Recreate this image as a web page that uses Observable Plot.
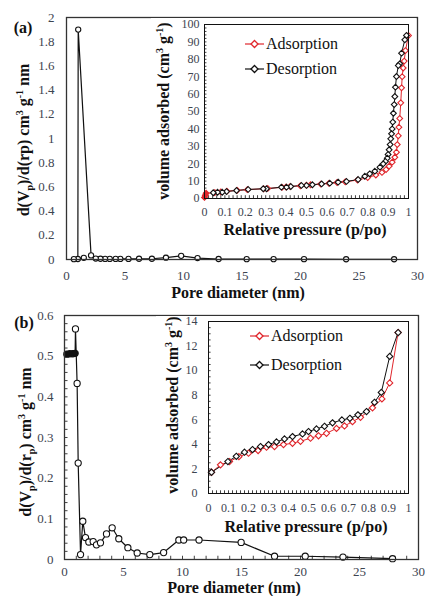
<!DOCTYPE html>
<html>
<head>
<meta charset="utf-8">
<script src="https://cdn.jsdelivr.net/npm/d3@7"></script>
<script src="https://cdn.jsdelivr.net/npm/@observablehq/plot@0.6"></script>
<style>
  html, body { margin: 0; padding: 0; background: white; }
  #root { position: relative; width: 425px; height: 596px; background: white; font-family: "Liberation Serif", serif; overflow: hidden; }
  .ttl { position: absolute; font-weight: bold; font-size: 16px; white-space: nowrap; color: #111; line-height: 1; }
  .ttl sup, .ttl sub { font-size: 10px; line-height: 0; }
  .leg { position: absolute; font-size: 16px; white-space: nowrap; color: #111; display: flex; align-items: center; line-height: 1; }
</style>
</head>
<body>
<div id="root"></div>
<script>
// ---------- Panel (a): pore size distribution ----------
const aPoreX = [28.0, 23.9, 20.3, 17.7, 15.4, 13.0, 11.2, 9.8, 8.5, 7.3, 6.2, 5.3, 4.6, 4.2, 3.7, 3.3, 2.9, 2.5, 2.1, 1.0, 0.97, 0.63, 1.48];
const aPoreY = [0.002, 0.002, 0.003, 0.003, 0.003, 0.004, 0.012, 0.03, 0.015, 0.006, 0.006, 0.005, 0.005, 0.005, 0.005, 0.005, 0.006, 0.008, 0.034, 1.9, 0.004, 0.003, 0.014];
const aXTicks = [0, 5, 10, 15, 20, 25, 30];
const aYTicks = [0, 0.2, 0.4, 0.6, 0.8, 1, 1.2, 1.4, 1.6, 1.8, 2];

// Panel (a) inset: isotherm
const aAdsP = [0.0, 0.004, 0.008, 0.05, 0.08, 0.11, 0.16, 0.21, 0.29, 0.31, 0.38, 0.40, 0.42, 0.47, 0.50, 0.52, 0.57, 0.61, 0.65, 0.69, 0.75, 0.80, 0.84, 0.87, 0.89, 0.905, 0.92, 0.933, 0.941, 0.945, 0.95, 0.953, 0.957, 0.962, 0.966, 0.969, 0.974, 0.979, 0.985, 1.0];
const aAdsV = [0.6, 1.8, 3.0, 3.4, 3.8, 4.2, 4.7, 5.1, 5.6, 5.8, 6.4, 6.6, 6.9, 7.3, 7.6, 7.9, 8.3, 8.7, 9.2, 9.6, 10.6, 12.0, 13.5, 15.0, 16.6, 18.6, 20.9, 23.7, 26.6, 31, 36, 41, 46, 55, 63.6, 70, 75, 79, 85, 93.7];
const aDesP = [0.99, 0.982, 0.966, 0.957, 0.95, 0.941, 0.936, 0.933, 0.93, 0.926, 0.923, 0.92, 0.917, 0.913, 0.91, 0.905, 0.90, 0.896, 0.887, 0.876, 0.86, 0.835, 0.81, 0.786, 0.753, 0.696, 0.655, 0.614, 0.574, 0.529, 0.50, 0.475, 0.423, 0.402, 0.377, 0.304, 0.288, 0.214, 0.157, 0.108, 0.087, 0.064, 0.043];
const aDesV = [93.7, 91.2, 83.5, 77.4, 76.4, 70.1, 64, 58.6, 54, 49, 43.9, 40, 37.2, 34.3, 31, 28, 25.3, 23.2, 21.3, 19.9, 18, 15.7, 14.2, 12.8, 10.9, 9.8, 9.4, 8.8, 8.4, 7.9, 7.5, 7.5, 6.9, 6.5, 6.5, 5.6, 5.6, 5.2, 4.6, 4.0, 3.6, 3.6, 3.3];
const aInXTicks = [0, 0.1, 0.2, 0.3, 0.4, 0.5, 0.6, 0.7, 0.8, 0.9, 1];
const aInYTicks = [0, 10, 20, 30, 40, 50, 60, 70, 80, 90, 100];

// ---------- Panel (b): pore size distribution ----------
const bPoreX = [0.2, 0.45, 0.7, 0.9, 0.93, 1.07, 1.16, 1.36, 1.55, 1.78, 2.06, 2.43, 2.71, 3.05, 3.56, 4.04, 4.6, 5.37, 6.16, 7.23, 8.4, 9.69, 10.1, 11.4, 14.97, 17.8, 20.4, 23.6, 27.8];
const bPoreY = [0.505, 0.506, 0.506, 0.507, 0.567, 0.433, 0.237, 0.012, 0.094, 0.054, 0.043, 0.044, 0.036, 0.041, 0.063, 0.078, 0.051, 0.029, 0.016, 0.012, 0.017, 0.048, 0.048, 0.048, 0.042, 0.008, 0.008, 0.006, 0.002];
const bXTicks = [0, 5, 10, 15, 20, 25, 30];
const bYTicks = [0, 0.1, 0.2, 0.3, 0.4, 0.5, 0.6];

// Panel (b) inset: isotherm
const bAdsP = [0.015, 0.06, 0.105, 0.152, 0.20, 0.248, 0.29, 0.33, 0.375, 0.42, 0.46, 0.51, 0.55, 0.59, 0.64, 0.68, 0.72, 0.76, 0.82, 0.867, 0.906, 0.948];
const bAdsV = [1.73, 2.33, 2.6, 3.0, 3.28, 3.5, 3.77, 3.82, 3.98, 4.09, 4.25, 4.5, 4.7, 4.9, 5.3, 5.5, 5.85, 6.2, 6.97, 7.7, 9.0, 13.1];
const bDesP = [0.948, 0.906, 0.864, 0.83, 0.79, 0.747, 0.707, 0.667, 0.62, 0.58, 0.54, 0.50, 0.47, 0.42, 0.38, 0.34, 0.30, 0.26, 0.22, 0.18, 0.139, 0.097, 0.015];
const bDesV = [13.1, 11.16, 8.23, 7.42, 6.67, 6.4, 6.12, 5.99, 5.75, 5.47, 5.26, 5.04, 4.85, 4.63, 4.44, 4.2, 3.98, 3.82, 3.58, 3.36, 3.03, 2.6, 1.73];
const bInXTicks = [0, 0.1, 0.2, 0.3, 0.4, 0.5, 0.6, 0.7, 0.8, 0.9, 1];
const bInYTicks = [0, 2, 4, 6, 8, 10, 12, 14];

const RED = "#e0262c";
const BLACK = "#111";
const FRAMECOL = "#333";
const TICKCOL = "#3d4450";
const FONT = "Liberation Serif";

const zip = (xs, ys) => xs.map((x, i) => ({x, y: ys[i], i}));
const fmt = d => String(+(+d).toFixed(1));

const root = document.getElementById("root");
function place(el, left, top) {
  el.style.position = "absolute";
  el.style.left = left + "px";
  el.style.top = top + "px";
  root.appendChild(el);
  return el;
}
function title(html, cx, cy, rotate) {
  const d = document.createElement("div");
  d.className = "ttl";
  d.innerHTML = html;
  d.style.left = cx + "px";
  d.style.top = cy + "px";
  d.style.transform = "translate(-50%,-50%)" + (rotate ? " rotate(-90deg)" : "");
  root.appendChild(d);
}
function legendItem(label, color, lineX, cy) {
  const d = document.createElement("div");
  d.className = "leg";
  d.style.left = lineX + "px";
  d.style.top = (cy - 9) + "px";
  d.style.height = "18px";
  d.innerHTML = `<svg width="19" height="18" style="margin-right:2px"><line x1="0" y1="9" x2="19" y2="9" stroke="${color}" stroke-width="1.2"/><polygon points="9.5,5.5 13,9 9.5,12.5 6,9" fill="white" stroke="${color}" stroke-width="1.3"/></svg><span>${label}</span>`;
  root.appendChild(d);
}

// ===== Main plot (a) =====
const aData = zip(aPoreX, aPoreY);
const plotA = Plot.plot({
  width: 425, height: 300,
  marginLeft: 66, marginRight: 8, marginTop: 17, marginBottom: 41,
  style: {fontFamily: FONT, fontSize: "13px", color: TICKCOL, background: "transparent", overflow: "visible"},
  x: {domain: [0, 30]},
  y: {domain: [0, 2]},
  marks: [
    Plot.axisX({ticks: aXTicks, tickSize: 0, tickPadding: 11, label: null, tickFormat: fmt}),
    Plot.axisY({ticks: aYTicks, tickSize: 0, tickPadding: 12, label: null, tickFormat: fmt}),
    Plot.line(aData, {x: "x", y: "y", stroke: BLACK, strokeWidth: 1.2}),
    Plot.dot(aData, {x: "x", y: "y", r: 2.6, fill: "white", stroke: BLACK, strokeWidth: 1.1}),
    Plot.frame({stroke: FRAMECOL, strokeWidth: 1.3})
  ]
});
place(plotA, 0, 0);

// ===== Inset (a) =====
const aAds = zip(aAdsP, aAdsV);
const aDes = zip(aDesP, aDesV);
const insetA = Plot.plot({
  width: 265, height: 222,
  marginLeft: 53, marginRight: 8, marginTop: 6, marginBottom: 42,
  style: {fontFamily: FONT, fontSize: "12px", color: TICKCOL, background: "white", overflow: "visible"},
  x: {domain: [0, 1]},
  y: {domain: [0, 100]},
  marks: [
    Plot.axisX({ticks: aInXTicks, tickSize: 0, tickPadding: 9, label: null, tickFormat: fmt}),
    Plot.axisY({ticks: aInYTicks, tickSize: 0, tickPadding: 5, label: null, tickFormat: fmt}),
    Plot.ruleX(d3.range(0, 1.0001, 0.02), {x: d => d, y1: 0, y2: 1.6, stroke: BLACK, strokeWidth: 0.8}),
    Plot.ruleY(d3.range(0, 100.001, 2), {y: d => d, x1: 0, x2: 0.012, stroke: BLACK, strokeWidth: 0.8}),
    Plot.line(aAds, {x: "x", y: "y", stroke: RED, strokeWidth: 1}),
    Plot.line(aDes, {x: "x", y: "y", stroke: BLACK, strokeWidth: 1}),
    Plot.dot(aAds, {x: "x", y: "y", symbol: "diamond2", r: 2.6, fill: d => d.i < 3 ? RED : "white", stroke: RED, strokeWidth: 1.1}),
    Plot.dot(aDes, {x: "x", y: "y", symbol: "diamond2", r: 2.6, fill: "white", stroke: BLACK, strokeWidth: 1.1}),
    Plot.frame({stroke: BLACK, strokeWidth: 1})
  ]
});
place(insetA, 151, 18);

// ===== Main plot (b) =====
const bData = zip(bPoreX, bPoreY);
const plotB = Plot.plot({
  width: 425, height: 296,
  marginLeft: 64, marginRight: 7, marginTop: 15, marginBottom: 37,
  style: {fontFamily: FONT, fontSize: "13px", color: TICKCOL, background: "transparent", overflow: "visible"},
  x: {domain: [0, 30]},
  y: {domain: [0, 0.6]},
  marks: [
    Plot.axisX({ticks: bXTicks, tickSize: 0, tickPadding: 7, label: null, tickFormat: fmt}),
    Plot.axisY({ticks: bYTicks, tickSize: 0, tickPadding: 11, label: null, tickFormat: fmt}),
    Plot.ruleY(d3.range(0, 0.6001, 0.02), {y: d => d, x1: 0, x2: 0.3, stroke: BLACK, strokeWidth: 0.8}),
    Plot.ruleX(d3.range(0, 30.001, 1), {x: d => d, y1: 0, y2: 0.008, stroke: BLACK, strokeWidth: 0.8}),
    Plot.line(bData, {x: "x", y: "y", stroke: BLACK, strokeWidth: 1.2}),
    Plot.dot(bData, {x: "x", y: "y", r: 3.1, fill: d => d.i < 4 ? BLACK : "white", stroke: BLACK, strokeWidth: 1.1}),
    Plot.frame({stroke: FRAMECOL, strokeWidth: 1.3})
  ]
});
place(plotB, 0, 300);

// ===== Inset (b) =====
const bAds = zip(bAdsP, bAdsV);
const bDes = zip(bDesP, bDesV);
const insetB = Plot.plot({
  width: 261, height: 217,
  marginLeft: 52, marginRight: 9, marginTop: 5, marginBottom: 40,
  style: {fontFamily: FONT, fontSize: "12px", color: TICKCOL, background: "white", overflow: "visible"},
  x: {domain: [0, 1]},
  y: {domain: [0, 14]},
  marks: [
    Plot.axisX({ticks: bInXTicks, tickSize: 0, tickPadding: 10, label: null, tickFormat: fmt}),
    Plot.axisY({ticks: bInYTicks, tickSize: 0, tickPadding: 11, label: null, tickFormat: fmt}),
    Plot.ruleX(d3.range(0, 1.0001, 0.02), {x: d => d, y1: 0, y2: 0.22, stroke: BLACK, strokeWidth: 0.8}),
    Plot.ruleY(d3.range(0, 14.001, 0.5), {y: d => d, x1: 0, x2: 0.013, stroke: BLACK, strokeWidth: 0.8}),
    Plot.line(bAds, {x: "x", y: "y", stroke: RED, strokeWidth: 1}),
    Plot.line(bDes, {x: "x", y: "y", stroke: BLACK, strokeWidth: 1}),
    Plot.dot(bAds, {x: "x", y: "y", symbol: "diamond2", r: 2.8, fill: "white", stroke: RED, strokeWidth: 1.1}),
    Plot.dot(bDes, {x: "x", y: "y", symbol: "diamond2", r: 2.8, fill: "white", stroke: BLACK, strokeWidth: 1.1}),
    Plot.frame({stroke: BLACK, strokeWidth: 1})
  ]
});
place(insetB, 156, 316);

// ===== Titles and labels =====
title("(a)", 23, 28, false);
title("(b)", 24, 323, false);
title("Pore diameter (nm)", 238, 293, false);
title("Pore diameter (nm)", 234, 588, false);
title("d(V<sub>p</sub>)/d(rp) cm<sup>3</sup> g<sup>-1</sup> nm", 24, 140, true);
title("d(V<sub>p</sub>)/d(r<sub>p</sub>) cm<sup>3</sup> g<sup>-1</sup> nm", 26, 442, true);
title("volume adsorbed (cm<sup>3</sup> g<sup>-1</sup>)", 164, 111, true);
title("volume adsorbed (cm<sup>3</sup> g<sup>-1</sup>)", 173, 405, true);
title("Relative pressure (p/po)", 305, 230, false);
title("Relative pressure (p/po)", 306, 527, false);

legendItem("Adsorption", RED, 245, 44);
legendItem("Desorption", BLACK, 245, 69);
legendItem("Adsorption", RED, 250, 336);
legendItem("Desorption", BLACK, 250, 365);
</script>
</body>
</html>
